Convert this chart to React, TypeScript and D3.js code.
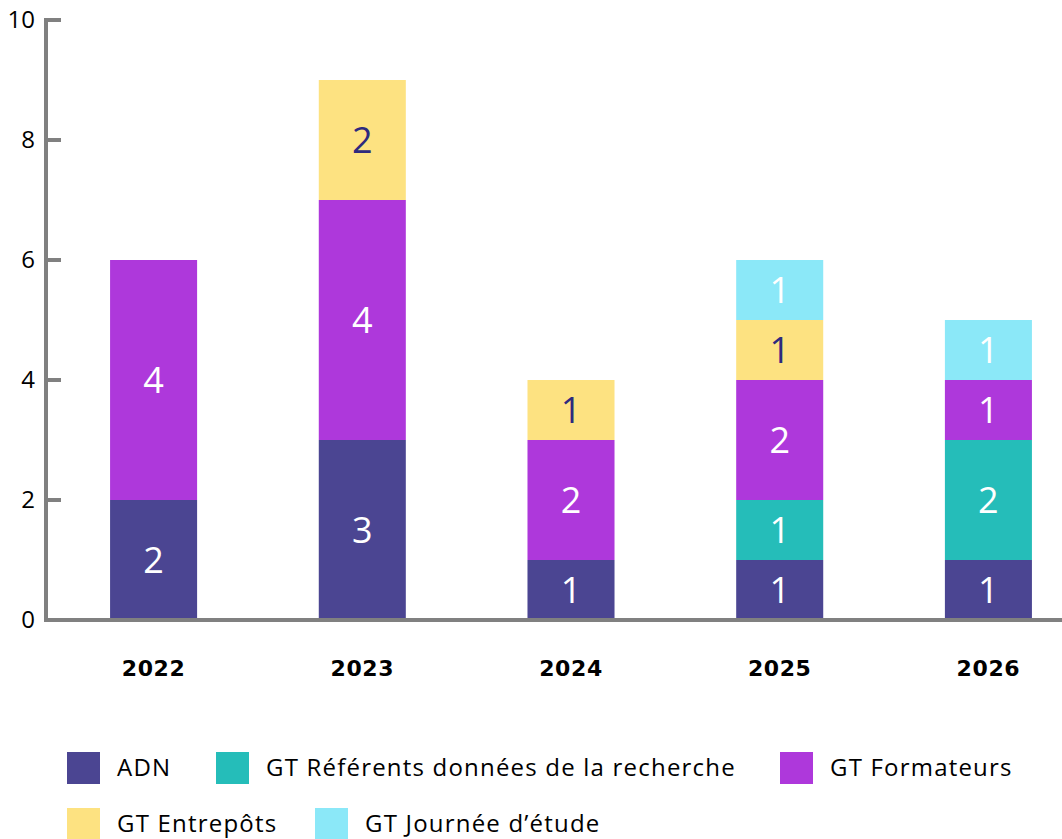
import { scaleBand, scaleLinear, stack } from "d3";

const years = ["2022", "2023", "2024", "2025", "2026"];
const seriesNames = [
  "ADN",
  "GT Référents données de la recherche",
  "GT Formateurs",
  "GT Entrepôts",
  "GT Journée d’étude",
];
const adn = [2, 3, 1, 1, 1];
const referents = [0, 0, 0, 1, 2];
const formateurs = [4, 4, 2, 2, 1];
const entrepots = [0, 2, 1, 1, 0];
const journee = [0, 0, 0, 1, 1];
const yTicks = [0, 2, 4, 6, 8, 10];

const colors = ["#4b4592", "#25bdb9", "#ae38db", "#fde281", "#8be8f8"];
const labelColors = ["#fff", "#fff", "#fff", "#2e2a7e", "#fff"];

const width = 1062;
const height = 839;

function App() {
  const allSeries = [adn, referents, formateurs, entrepots, journee];
  const rows = years.map((year, i) => {
    const row: Record<string, any> = { year };
    seriesNames.forEach((name, k) => (row[name] = allSeries[k][i]));
    return row;
  });
  const stacked = stack<any>().keys(seriesNames)(rows);

  const axisX = 46;
  const x = scaleBand()
    .domain(years)
    .range([axisX, 1096])
    .paddingInner(0.583)
    .paddingOuter(0.307);
  const y = scaleLinear().domain([0, 10]).range([620, 20]);

  const legend = [
    { i: 0, lx: 67, ly: 752 },
    { i: 1, lx: 216, ly: 752 },
    { i: 2, lx: 780, ly: 752 },
    { i: 3, lx: 67, ly: 808 },
    { i: 4, lx: 315, ly: 808 },
  ];

  return (
    <svg
      width={width}
      height={height}
      style={{ position: "absolute", left: 0, top: 0, background: "#fff" }}
      fontFamily="'Open Sans', sans-serif"
    >
      {stacked.map((layer, k) => (
        <g key={layer.key} fill={colors[k]}>
          {layer.map((d, i) =>
            d[1] - d[0] > 0 ? (
              <g key={years[i]}>
                <rect
                  x={x(years[i])}
                  y={y(d[1])}
                  width={x.bandwidth()}
                  height={y(d[0]) - y(d[1])}
                />
                <text
                  x={(x(years[i]) as number) + x.bandwidth() / 2}
                  y={(y(d[0]) + y(d[1])) / 2}
                  dy="0.35em"
                  textAnchor="middle"
                  fontSize={36}
                  fill={labelColors[k]}
                >
                  {d[1] - d[0]}
                </text>
              </g>
            ) : null
          )}
        </g>
      ))}

      {/* axes */}
      <line x1={axisX} x2={axisX} y1={y(10) - 2} y2={y(0) + 2} stroke="#808080" strokeWidth={4} />
      <line x1={axisX - 2} x2={width} y1={y(0)} y2={y(0)} stroke="#808080" strokeWidth={4} />
      {yTicks.map((t) => (
        <g key={t}>
          {t > 0 && (
            <line x1={axisX} x2={61} y1={y(t)} y2={y(t)} stroke="#808080" strokeWidth={4} />
          )}
          <text x={35} y={y(t)} dy="0.35em" textAnchor="end" fontSize={24} fill="#000">
            {t}
          </text>
        </g>
      ))}
      {years.map((yr) => (
        <text
          key={yr}
          x={(x(yr) as number) + x.bandwidth() / 2}
          y={668}
          dy="0.35em"
          textAnchor="middle"
          fontFamily="'DejaVu Sans', sans-serif"
          fontSize={22}
          fontWeight="bold"
          letterSpacing={0.6}
          fill="#000"
        >
          {yr}
        </text>
      ))}

      {/* legend */}
      {legend.map(({ i, lx, ly }) => (
        <g key={i}>
          <rect x={lx} y={ly} width={33} height={32} fill={colors[i]} />
          <text
            x={lx + 50}
            y={ly + 16}
            dy="0.35em"
            fontSize={24}
            letterSpacing={1.2}
            fill="#000"
          >
            {seriesNames[i]}
          </text>
        </g>
      ))}
    </svg>
  );
}

export default App;
